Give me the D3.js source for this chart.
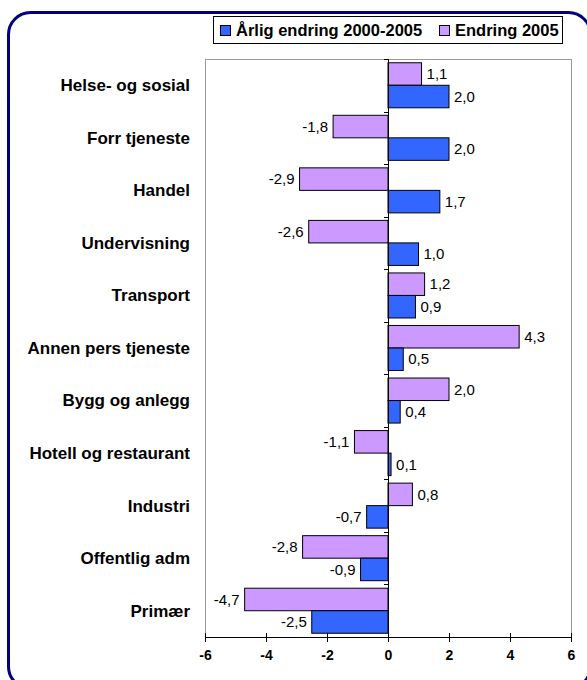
<!DOCTYPE html>
<html>
<head>
<meta charset="utf-8">
<script src="https://cdn.jsdelivr.net/npm/d3@7"></script>
<style>
body { margin: 0; background: #fff; }
svg { display: block; font-family: "Liberation Sans", Arial, sans-serif; }
.axis path, .axis line { stroke: #000; }
</style>
</head>
<body>
<div id="chart"></div>
<script>
//Data
var categories = ["Helse- og sosial", "Forr tjeneste", "Handel", "Undervisning", "Transport",
	"Annen pers tjeneste", "Bygg og anlegg", "Hotell og restaurant", "Industri", "Offentlig adm", "Primær"];
var seriesNames = ["Endring 2005", "Årlig endring 2000-2005"];
var endring2005 = [1.1, -1.8, -2.9, -2.6, 1.2, 4.3, 2.0, -1.1, 0.8, -2.8, -4.7];
var aarlig = [2.0, 2.0, 1.7, 1.0, 0.9, 0.5, 0.4, 0.1, -0.7, -0.9, -2.5];
var xTicks = [-6, -4, -2, 0, 2, 4, 6];

var colors = {"Endring 2005": "#CC99FF", "Årlig endring 2000-2005": "#3366FF"};

var W = 587, H = 680;
var margin = {top: 59, right: 16, bottom: 43, left: 205},
	width = W - margin.left - margin.right,
	height = H - margin.top - margin.bottom;

var fmt = function(v) { return v.toFixed(1).replace(".", ","); };

var svg = d3.select("#chart").append("svg")
	.attr("width", W)
	.attr("height", H);

//Rounded frame
svg.append("rect")
	.attr("x", 8.5).attr("y", 12.5)
	.attr("width", 582).attr("height", 676)
	.attr("rx", 22).attr("ry", 22)
	.style("fill", "none")
	.style("stroke", "#000080")
	.style("stroke-width", 3);

var g = svg.append("g")
	.attr("transform", "translate(" + margin.left + "," + margin.top + ")");

var x = d3.scaleLinear().domain([-6, 6]).range([0, width]);
var y0 = d3.scaleBand().domain(categories).range([0, height]).paddingInner(0.143).paddingOuter(0.0715);
var y1 = d3.scaleBand().domain(seriesNames).range([0, y0.bandwidth()]);

//Plot area border
g.append("rect")
	.attr("x", 0.5).attr("y", 0.5)
	.attr("width", width).attr("height", height)
	.style("fill", "none")
	.style("stroke", "#999")
	.style("stroke-width", 1);

//Bars
var data = categories.map(function(c, i) {
	return {cat: c, values: [
		{name: seriesNames[0], value: endring2005[i]},
		{name: seriesNames[1], value: aarlig[i]}
	]};
});

var groups = g.selectAll(".grp").data(data).enter().append("g")
	.attr("class", "grp")
	.attr("transform", function(d) { return "translate(0," + y0(d.cat) + ")"; });

groups.selectAll("rect").data(function(d) { return d.values; }).enter().append("rect")
	.attr("x", function(d) { return x(Math.min(0, d.value)); })
	.attr("y", function(d) { return y1(d.name); })
	.attr("width", function(d) { return Math.abs(x(d.value) - x(0)); })
	.attr("height", y1.bandwidth())
	.style("fill", function(d) { return colors[d.name]; })
	.style("stroke", "#000")
	.style("stroke-width", 1);

groups.selectAll("text").data(function(d) { return d.values; }).enter().append("text")
	.attr("x", function(d) { return d.value >= 0 ? x(d.value) + 5 : x(d.value) - 5; })
	.attr("y", function(d) { return y1(d.name) + y1.bandwidth() / 2; })
	.attr("dy", "0.35em")
	.style("text-anchor", function(d) { return d.value >= 0 ? "start" : "end"; })
	.style("font-size", "15px")
	.text(function(d) { return fmt(d.value); });

//Zero axis with category ticks
var zeroG = g.append("g").attr("class", "axis");
zeroG.append("line")
	.attr("x1", x(0) + 0.5).attr("x2", x(0) + 0.5)
	.attr("y1", 0).attr("y2", height);
var bounds = d3.range(categories.length + 1).map(function(i) { return i * height / categories.length; });
zeroG.selectAll(".ct").data(bounds).enter().append("line")
	.attr("x1", x(0) - 4).attr("x2", x(0) + 0.5)
	.attr("y1", function(d) { return Math.round(d) + 0.5; })
	.attr("y2", function(d) { return Math.round(d) + 0.5; });

//Category labels
g.selectAll(".cat").data(categories).enter().append("text")
	.attr("x", -15)
	.attr("y", function(d) { return y0(d) + y0.bandwidth() / 2; })
	.attr("dy", "0.35em")
	.style("text-anchor", "end")
	.style("font-weight", "bold")
	.style("font-size", "17px")
	.text(function(d) { return d; });

//X axis
var xAxis = d3.axisBottom(x).tickValues(xTicks).tickSize(6).tickFormat(d3.format("d"));
var xg = g.append("g").attr("class", "axis")
	.attr("transform", "translate(0," + height + ")")
	.call(xAxis);
xg.select(".domain").attr("d", "M0.5,0.5H" + (width + 0.5));
xg.selectAll(".tick line").attr("y1", -4).attr("y2", 5);
xg.selectAll("text")
	.attr("y", 13)
	.style("font-size", "14px")
	.style("font-weight", "bold")
	.style("font-family", "'Liberation Sans', Arial, sans-serif")
	.text(function(d) { return d < 0 ? "-" + Math.abs(d) : d; });

//Legend
var legend = svg.append("g").attr("transform", "translate(213,16)");
legend.append("rect")
	.attr("x", 0.5).attr("y", 0.5)
	.attr("width", 349).attr("height", 27)
	.style("fill", "#fff").style("stroke", "#000").style("stroke-width", 1);
var legItems = [
	{name: seriesNames[1], x: 7},
	{name: seriesNames[0], x: 226}
];
var li = legend.selectAll(".li").data(legItems).enter().append("g")
	.attr("transform", function(d) { return "translate(" + d.x + ",0)"; });
li.append("rect")
	.attr("x", 0.5).attr("y", 9.5)
	.attr("width", 10).attr("height", 10)
	.style("fill", function(d) { return colors[d.name]; })
	.style("stroke", "#000");
li.append("text")
	.attr("x", 16).attr("y", 14)
	.attr("dy", "0.35em")
	.style("font-weight", "bold")
	.style("font-size", "16.5px")
	.text(function(d) { return d.name; });
</script>
</body>
</html>
